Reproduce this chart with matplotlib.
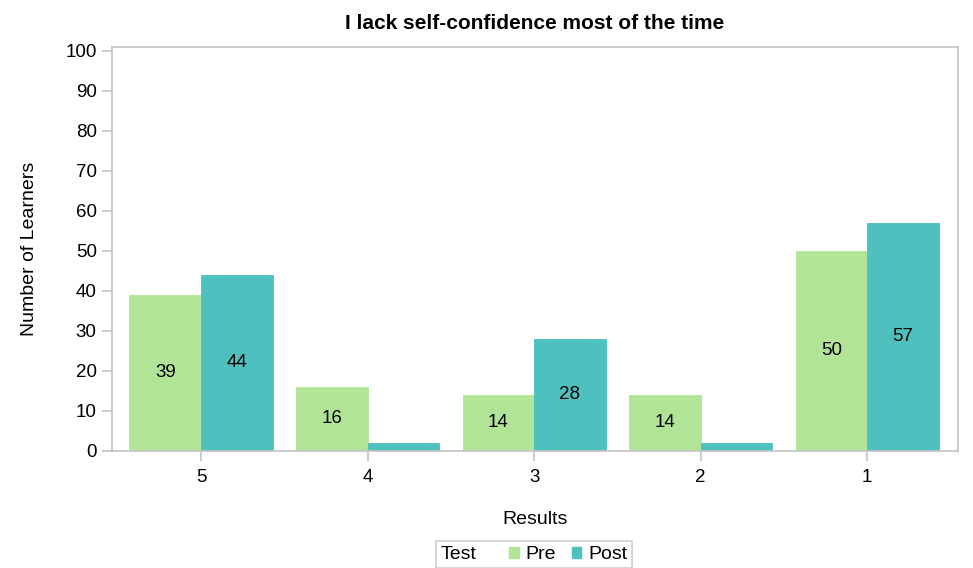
import matplotlib
matplotlib.use("Agg")
import matplotlib.pyplot as plt
from matplotlib.patches import Patch
import numpy as np

plt.rcParams['font.family'] = ['Liberation Sans', 'DejaVu Sans']

categories = ["5", "4", "3", "2", "1"]
pre_values = [39, 16, 14, 14, 50]
post_values = [44, 2, 28, 2, 57]
series_names = ["Pre", "Post"]
colors = ["#b1e497", "#4ec0be"]

fig = plt.figure(figsize=(9.73, 5.68), dpi=100)
ax = fig.add_axes([0.1151, 0.206, 0.8695, 0.7113])

x = np.arange(len(categories))
w = 0.43
frame = "#c4c4c4"

for vals, off, col in [(pre_values, -w / 2, colors[0]), (post_values, w / 2, colors[1])]:
    bars = ax.bar(x + off, vals, width=w, color=col, edgecolor=col, linewidth=0.6, zorder=2)
    labels = [str(v) if v >= 5 else "" for v in vals]
    ax.bar_label(bars, labels=labels, label_type="center", fontsize=13.5, color="black")

ax.set_xlim(-0.535, 4.545)
ax.set_ylim(0, 101)
ax.set_yticks(np.arange(0, 101, 10))
ax.set_xticks(x)
ax.set_xticklabels(categories)

for s in ax.spines.values():
    s.set_color(frame)
    s.set_linewidth(1.2)
ax.tick_params(axis="both", colors=frame, labelcolor="black", labelsize=13.5, length=7, width=1.2)
ax.tick_params(axis="y", pad=4)
ax.tick_params(axis="x", pad=6)

ax.set_title("I lack self-confidence most of the time", fontsize=15, fontweight="bold", pad=13)
ax.set_xlabel("Results", fontsize=14, labelpad=18)
ax.set_ylabel("Number of Learners", fontsize=14, labelpad=20)

# Legend: group caption "Test" followed by the two series swatches
handles = [Patch(visible=False)] + [Patch(facecolor=c, edgecolor=c) for c in colors]
leg = fig.legend(handles, ["Test"] + series_names, loc="center", ncol=3,
                 bbox_to_anchor=(0.549, 0.0237), frameon=True, fancybox=False,
                 fontsize=14, handlelength=0.5, handleheight=0.5,
                 handletextpad=0.35, columnspacing=0.8, borderpad=0.25,
                 borderaxespad=0)
leg.get_frame().set_edgecolor(frame)
leg.get_frame().set_linewidth(1.2)

# put the caption text before its (empty) handle slot
first_row = leg._legend_handle_box.get_children()[0].get_children()[0]
first_row.get_children().reverse()

fig.savefig("out.png", dpi=100)
